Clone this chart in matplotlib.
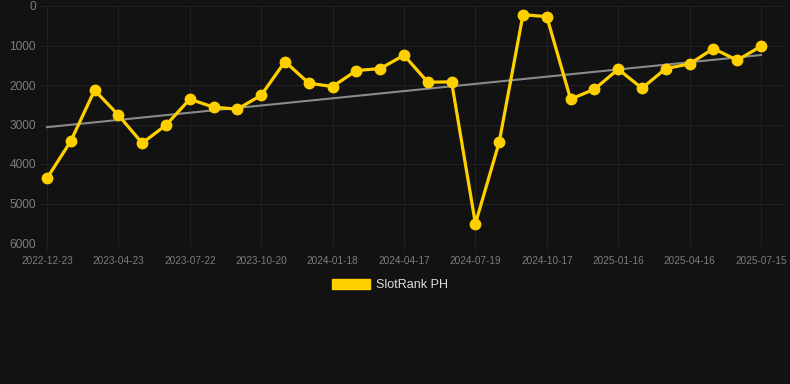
import numpy as np
import matplotlib
matplotlib.use("Agg")
import matplotlib.pyplot as plt
from matplotlib.patches import Patch

# monthly rank values (lower is better)
ranks = [4360, 3420, 2131, 2763, 3471, 3016, 2359, 2561, 2612, 2258,
         1407, 1955, 2039, 1634, 1584, 1247, 1929, 1921, 5510, 3446,
         219, 270, 2359, 2106, 1601, 2081, 1584, 1466, 1078, 1373, 1019]
tick_labels = ['2022-12-23', '2023-04-23', '2023-07-22', '2023-10-20',
               '2024-01-18', '2024-04-17', '2024-07-19', '2024-10-17',
               '2025-01-16', '2025-04-16', '2025-07-15']
series_name = 'SlotRank PH'

plt.rcParams['font.family'] = ['Liberation Sans', 'DejaVu Sans']

bg = '#121212'
gold = '#FFD000'
grid_c = '#202020'

W, H = 790, 384
fig = plt.figure(figsize=(W / 100, H / 100), dpi=100, facecolor=bg)
left, right, top, bottom = 40, 785, 6, 243
ax = fig.add_axes([left / W, 1 - bottom / H, (right - left) / W, (bottom - top) / H])
ax.set_facecolor(bg)

x = np.arange(len(ranks))
# trend line: least squares fit
k, b = np.polyfit(x, ranks, 1)
ax.plot(x, k * x + b, color='#8a8a8a', lw=1.5, zorder=2)
ax.plot(x, ranks, color=gold, lw=2.3, marker='o', ms=7.5, zorder=3)

# index 0 at px 47, index 30 at px 761
step = (761 - 47) / 30
ax.set_xlim(-(47 - left) / step, 30 + (right - 761) / step)
ax.set_ylim(6000, 0)
ax.set_yticks(range(0, 6001, 1000))
ax.set_xticks(x[::3])
ax.set_xticklabels(tick_labels)

ax.grid(True, color=grid_c, lw=0.8)
ax.set_axisbelow(True)
for s in ax.spines.values():
    s.set_visible(False)
ax.tick_params(axis='y', colors='#7d7d7d', labelsize=8.6, length=0, pad=3)
ax.tick_params(axis='x', colors='#7d7d7d', labelsize=7.2, length=5, pad=4,
               color=grid_c)

fig.legend(handles=[Patch(facecolor=gold, edgecolor=gold)], labels=[series_name],
           loc='center', bbox_to_anchor=(390 / W, 1 - 285 / H), frameon=False,
           handlelength=3.1, handleheight=0.8, fontsize=9, labelcolor='#dddddd',
           handletextpad=0.5)

fig.savefig('out.png', dpi=100, facecolor=bg)
